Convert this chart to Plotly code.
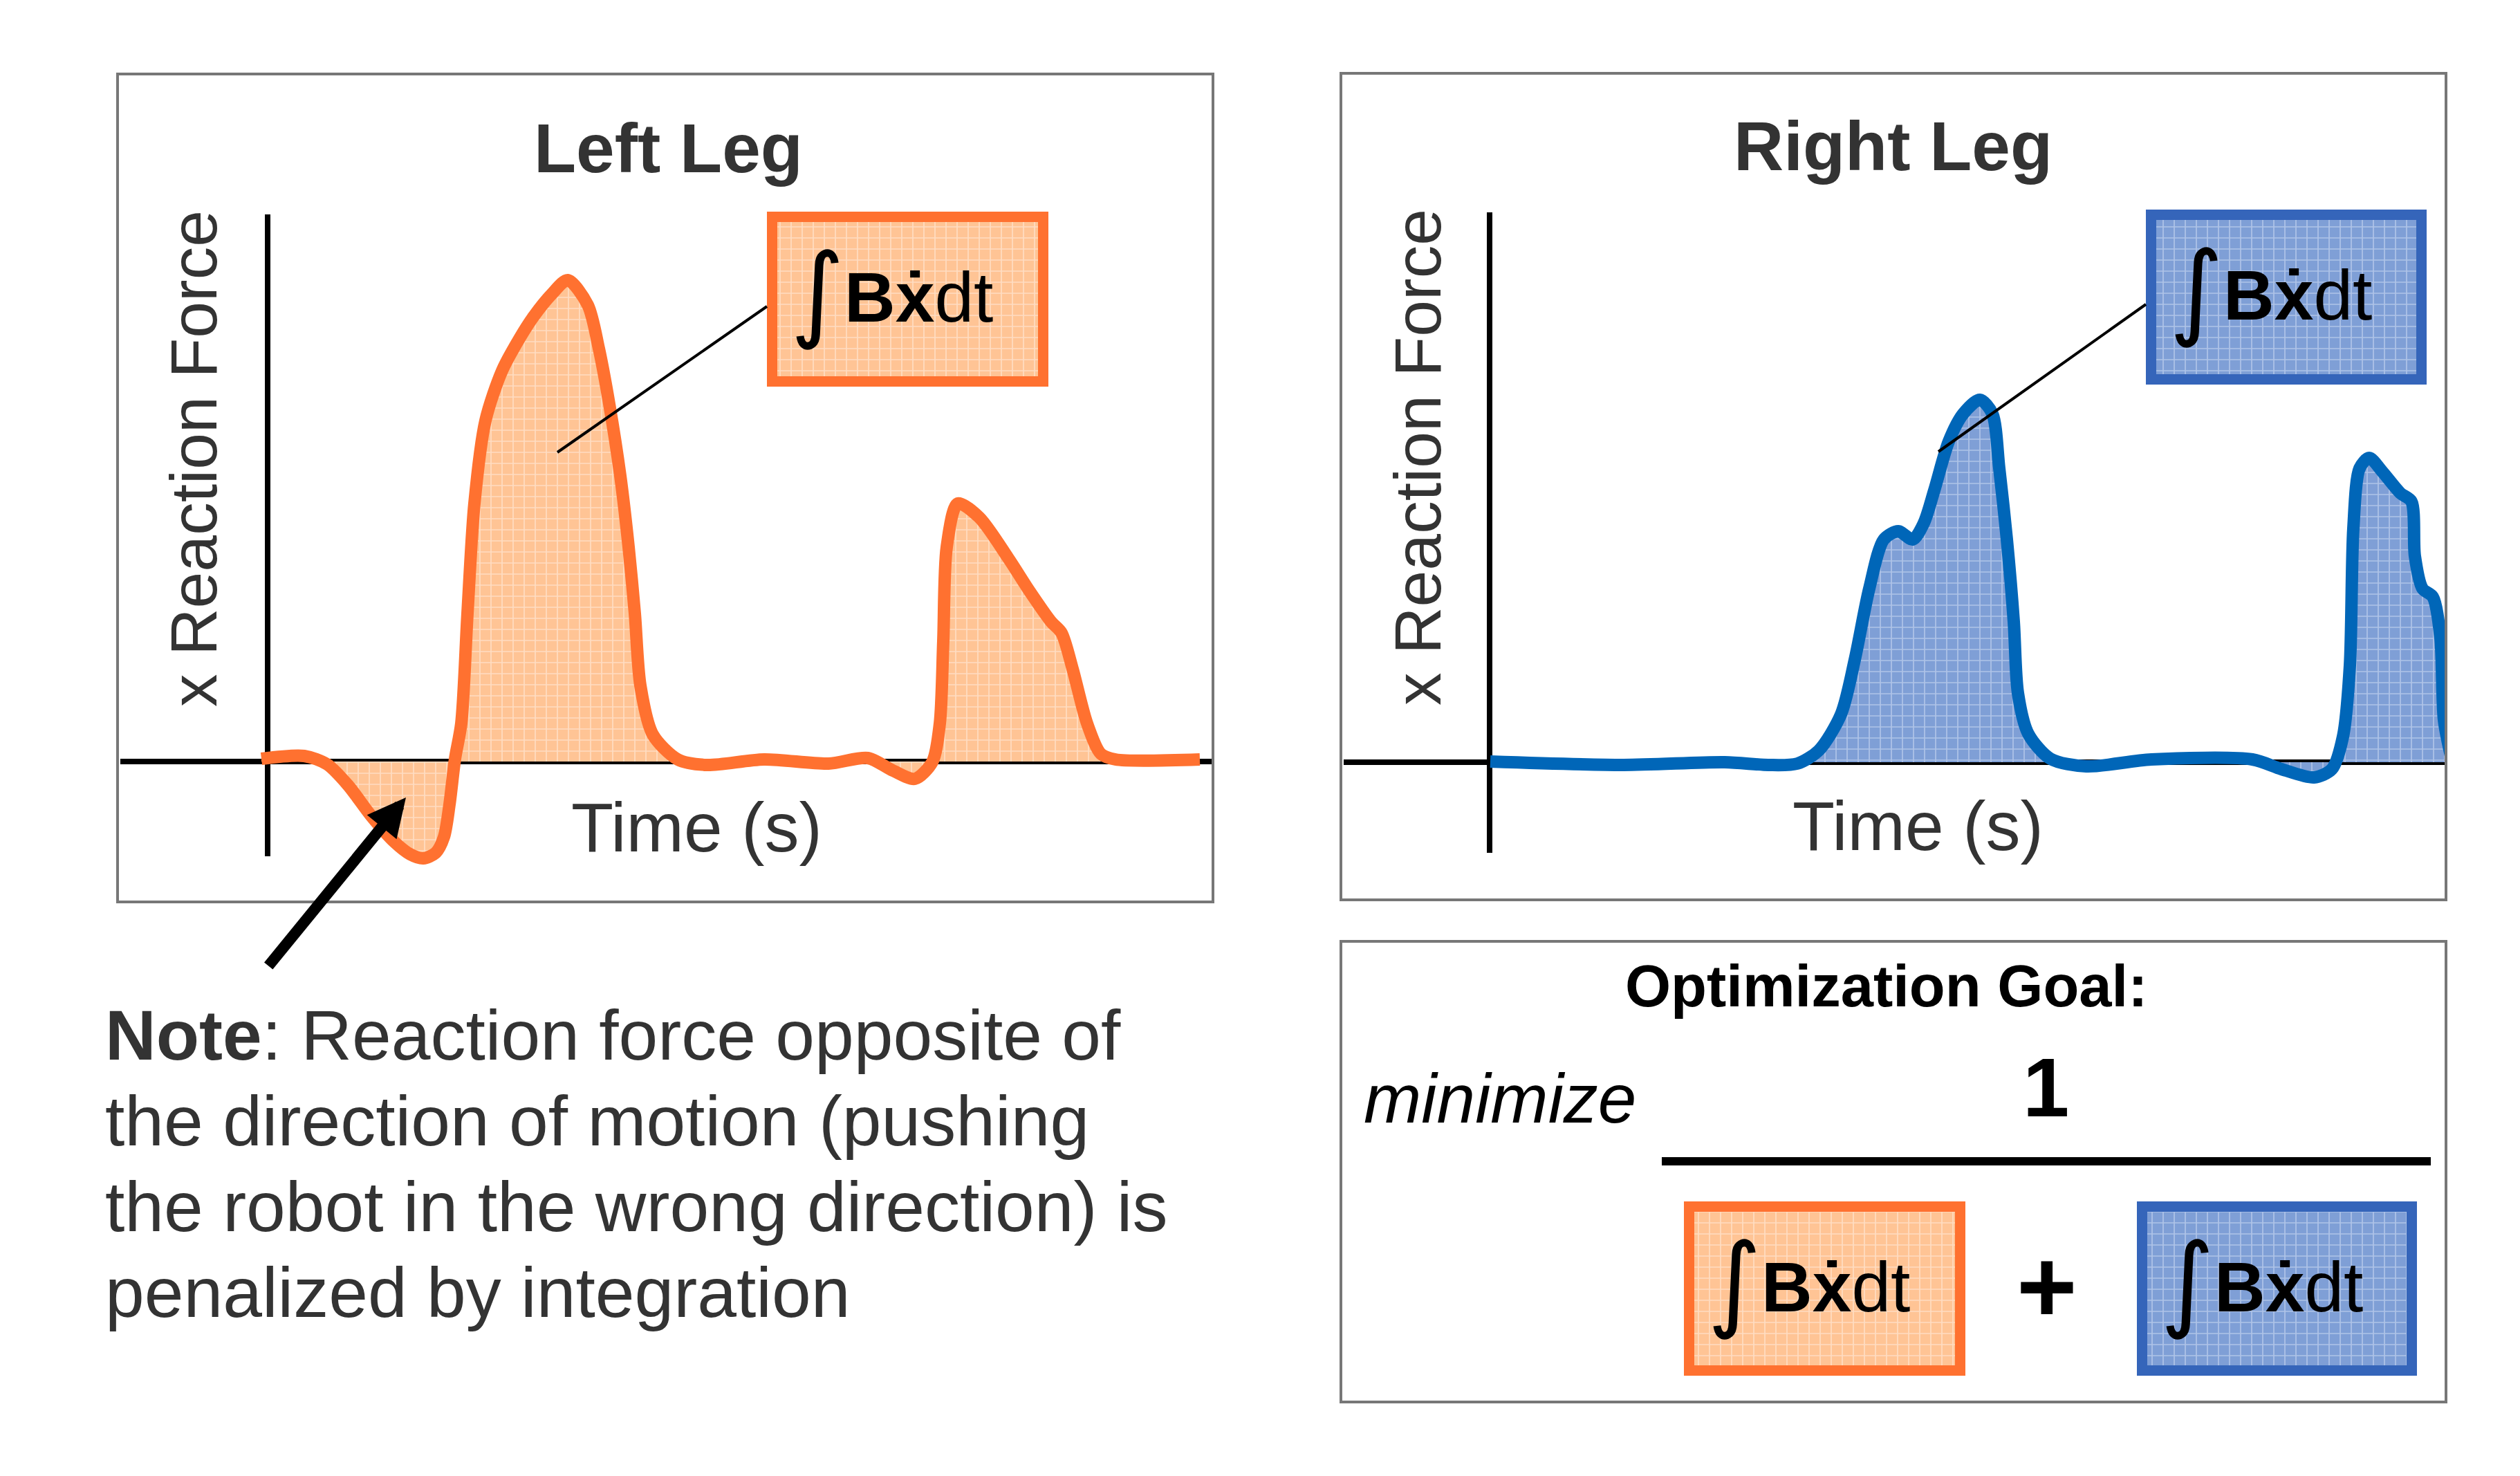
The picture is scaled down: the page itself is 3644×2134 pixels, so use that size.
import plotly.graph_objects as go

W, H = 3644, 2134

# ---------------- data ----------------
left_time = [-0.09, 0.53, 0.86, 1.16, 1.50, 1.83, 2.06, 2.25, 2.43, 2.55, 2.63, 2.71, 2.80, 2.89,
             2.99, 3.15, 3.39, 3.65, 3.85, 4.11, 4.34, 4.63, 4.79, 4.94, 5.10, 5.22, 5.31, 5.39,
             5.57, 5.93, 6.35, 7.18, 8.11, 8.68, 9.04, 9.36, 9.61, 9.72, 9.77, 9.82, 9.98, 10.29,
             10.71, 11.02, 11.33, 11.48, 11.64, 11.85, 12.05, 12.26, 13.48]
left_force = [0.04, 0.08, -0.04, -0.34, -0.79, -1.16, -1.34, -1.40, -1.32, -1.09, -0.62, 0.04, 0.55,
              2.14, 3.73, 4.93, 5.65, 6.13, 6.44, 6.76, 6.96, 6.60, 5.97, 5.17, 4.13, 3.10, 2.14,
              1.10, 0.39, 0.03, -0.05, 0.03, -0.03, 0.05, -0.13, -0.25, -0.01, 0.55, 1.74, 3.10,
              3.73, 3.53, 2.94, 2.46, 2.02, 1.86, 1.34, 0.55, 0.11, 0.03, 0.03]

right_time = [0.01, 1.94, 3.40, 4.03, 4.45, 4.76, 5.08, 5.28, 5.49, 5.70, 5.91, 6.12, 6.28, 6.43,
              6.64, 6.85, 7.09, 7.27, 7.37, 7.48, 7.58, 7.64, 7.79, 8.11, 8.63, 9.57, 11.03, 11.45,
              11.92, 12.18, 12.34, 12.44, 12.49, 12.58, 12.72, 12.91, 13.17, 13.33, 13.38, 13.49,
              13.64, 13.75, 13.80, 13.91]
right_force = [0.01, -0.04, 0.00, -0.04, -0.02, 0.17, 0.69, 1.48, 2.51, 3.22, 3.34, 3.22, 3.46, 3.93,
               4.64, 5.04, 5.24, 5.04, 4.25, 3.22, 2.03, 1.00, 0.41, 0.05, -0.06, 0.04, 0.04, -0.10,
               -0.22, -0.10, 0.37, 1.40, 3.38, 4.25, 4.40, 4.20, 3.89, 3.77, 2.98, 2.51, 2.39, 1.79,
               0.61, 0.05]

panel_titles = ["Left Leg", "Right Leg"]
y_label = "x Reaction Force"
x_label = "Time (s)"
term_text = "<b>Bx\u0307</b>dt"
integral = "\u222b"
goal_title = "Optimization Goal:"
note_lines = ["<b>Note</b>: Reaction force opposite of",
              "the direction of motion (pushing",
              "the robot in the wrong direction) is",
              "penalized by integration"]

# ---------------- styles ----------------
FONT = "Liberation Sans, Arial, sans-serif"
INT_FONT = "DejaVu Sans, Liberation Sans, sans-serif"
ORANGE = "#FF7130"
ORANGE_FILL = "#FFC495"
ORANGE_GRID = "#FFDDC2"
BLUE_LINE = "#0066B8"
BLUE_BORDER = "#3565BA"
BLUE_FILL = "#7F9FD6"
BLUE_GRID = "#AFC4E8"
DARK = "#333333"
FRAME = "#777777"


def px(x):
    return x / W


def py(y):
    return 1 - y / H


fig = go.Figure()

# chart traces
fig.add_trace(go.Scatter(
    x=left_time, y=left_force, mode="lines", xaxis="x", yaxis="y",
    line=dict(color=ORANGE, width=18, shape="spline", smoothing=0.8),
    fill="tozeroy", fillcolor=ORANGE_FILL,
    fillpattern=dict(shape="+", bgcolor=ORANGE_FILL, fgcolor=ORANGE_GRID, size=16, solidity=0.2,
                     fgopacity=1),
    showlegend=False, hoverinfo="skip"))
fig.add_trace(go.Scatter(
    x=right_time, y=right_force, mode="lines", xaxis="x2", yaxis="y2",
    line=dict(color=BLUE_LINE, width=18, shape="spline", smoothing=0.8),
    fill="tozeroy", fillcolor=BLUE_FILL,
    fillpattern=dict(shape="+", bgcolor=BLUE_FILL, fgcolor=BLUE_GRID, size=16, solidity=0.2,
                     fgopacity=1),
    showlegend=False, hoverinfo="skip"))

# patterned term boxes (outer pixel extents)
BORDER = 15
boxes = [
    ((1109, 306, 1516, 559), ORANGE, ORANGE_FILL, ORANGE_GRID),
    ((3103, 303, 3509, 556), BLUE_BORDER, BLUE_FILL, BLUE_GRID),
    ((2435, 1737, 2842, 1989), ORANGE, ORANGE_FILL, ORANGE_GRID),
    ((3090, 1737, 3495, 1989), BLUE_BORDER, BLUE_FILL, BLUE_GRID),
]
shapes = []
annotations = []
for (x0, y0, x1, y1), bc, fc, gc in boxes:
    h = BORDER / 2
    fig.add_trace(go.Scatter(
        x=[x0 + h, x1 - h, x1 - h, x0 + h, x0 + h], y=[y0 + h, y0 + h, y1 - h, y1 - h, y0 + h],
        xaxis="x3", yaxis="y3", mode="lines", line=dict(width=0, color=fc),
        fill="toself", fillcolor=fc,
        fillpattern=dict(shape="+", bgcolor=fc, fgcolor=gc, size=16, solidity=0.2, fgopacity=1),
        showlegend=False, hoverinfo="skip"))
    shapes.append(dict(type="rect", xref="paper", yref="paper", x0=px(x0 + h), x1=px(x1 - h),
                       y0=py(y0 + h), y1=py(y1 - h), line=dict(color=bc, width=BORDER),
                       fillcolor="rgba(0,0,0,0)", layer="above"))
    annotations.append(dict(text=integral, x=px(x0 + 73), y=py(y0 + 116), xref="paper", yref="paper",
                            xanchor="center", yanchor="middle", showarrow=False,
                            font=dict(family=INT_FONT, size=150, color="black")))
    annotations.append(dict(text=term_text, x=px(x0 + 110), y=py(y0 + 124), xref="paper",
                            yref="paper", xanchor="left", yanchor="middle", showarrow=False,
                            font=dict(family=FONT, size=102, color="black")))

# panel frames
for (x0, y0, x1, y1) in [(170, 107, 1754, 1304), (1939, 106, 3537, 1301), (1939, 1361, 3537, 2027)]:
    shapes.append(dict(type="rect", xref="paper", yref="paper", x0=px(x0), x1=px(x1), y0=py(y0),
                       y1=py(y1), line=dict(color=FRAME, width=4), fillcolor="rgba(0,0,0,0)",
                       layer="above"))

# left vertical axis line (the plot area is taller than it so the curve is not clipped)
shapes.append(dict(type="line", xref="x", yref="y", x0=0, x1=0, y0=-1.37, y1=7.91,
                   line=dict(color="black", width=8), layer="below"))

# leader lines
for (xa, ya, xb, yb) in [(1109, 443, 806, 654), (3103, 440, 2803, 653)]:
    shapes.append(dict(type="line", xref="paper", yref="paper", x0=px(xa), y0=py(ya), x1=px(xb),
                       y1=py(yb), line=dict(color="black", width=4), layer="above"))

# fraction bar
shapes.append(dict(type="line", xref="paper", yref="paper", x0=px(2403), x1=px(3515), y0=py(1679),
                   y1=py(1679), line=dict(color="black", width=12), layer="above"))

# titles and axis labels
for title, cx, cy in [(panel_titles[0], 966, 214), (panel_titles[1], 2737, 211)]:
    annotations.append(dict(text="<b>" + title + "</b>", x=px(cx), y=py(cy), xref="paper",
                            yref="paper", xanchor="center", yanchor="middle", showarrow=False,
                            font=dict(family=FONT, size=100, color=DARK)))
for cx, cy in [(280, 663), (2050, 661)]:
    annotations.append(dict(text=y_label, x=px(cx), y=py(cy), xref="paper", yref="paper",
                            xanchor="center", yanchor="middle", textangle=-90, showarrow=False,
                            font=dict(family=FONT, size=95, color=DARK)))
for cx, cy in [(1007, 1196), (2773, 1194)]:
    annotations.append(dict(text=x_label, x=px(cx), y=py(cy), xref="paper", yref="paper",
                            xanchor="center", yanchor="middle", showarrow=False,
                            font=dict(family=FONT, size=100, color=DARK)))

# optimization goal panel text
annotations.append(dict(text="<b>" + goal_title + "</b>", x=px(2728), y=py(1425), xref="paper",
                        yref="paper", xanchor="center", yanchor="middle", showarrow=False,
                        font=dict(family=FONT, size=85, color="black")))
annotations.append(dict(text="<i>minimize</i>", x=px(1970), y=py(1588), xref="paper", yref="paper",
                        xanchor="left", yanchor="middle", showarrow=False,
                        font=dict(family=FONT, size=100, color="black")))
annotations.append(dict(text="<b>1</b>", x=px(2958), y=py(1572), xref="paper", yref="paper",
                        xanchor="center", yanchor="middle", showarrow=False,
                        font=dict(family=FONT, size=121, color="black")))
annotations.append(dict(text="<b>+</b>", x=px(2960), y=py(1860), xref="paper", yref="paper",
                        xanchor="center", yanchor="middle", showarrow=False,
                        font=dict(family=FONT, size=150, color="black")))

# note
for i, line in enumerate(note_lines):
    annotations.append(dict(text=line, x=px(150), y=py(1497 + 124 * i), xref="paper", yref="paper",
                            xanchor="left", yanchor="middle", showarrow=False,
                            font=dict(family=FONT, size=102, color=DARK)))

# arrow
annotations.append(dict(text="", x=px(587), y=py(1153), xref="paper", yref="paper",
                        showarrow=True, ax=-200, ay=245, arrowhead=2, arrowsize=0.69,
                        arrowwidth=16, arrowcolor="black", standoff=0))

axis_common = dict(showgrid=False, showticklabels=False, ticks="", showline=False,
                   zerolinecolor="black", zerolinewidth=8, fixedrange=True)

fig.update_layout(
    width=W, height=H, margin=dict(l=0, r=0, t=0, b=0),
    paper_bgcolor="white", plot_bgcolor="rgba(0,0,0,0)",
    showlegend=False,
    xaxis=dict(domain=[px(174), px(1754)], range=[-2.13, 13.67], anchor="y", zeroline=False,
               **axis_common),
    yaxis=dict(domain=[py(1270), py(310)], range=[-1.69, 7.91], anchor="x", zeroline=True,
               **axis_common),
    xaxis2=dict(domain=[px(1943), px(3537)], range=[-2.11, 13.83], anchor="y2", zeroline=True,
                **axis_common),
    yaxis2=dict(domain=[py(1233), py(307)], range=[-1.31, 7.95], anchor="x2", zeroline=True,
                **axis_common),
    xaxis3=dict(domain=[0, 1], range=[0, W], anchor="y3", visible=False, fixedrange=True),
    yaxis3=dict(domain=[0, 1], range=[H, 0], anchor="x3", visible=False, fixedrange=True),
    shapes=shapes, annotations=annotations,
)

fig.write_html("out.html")
